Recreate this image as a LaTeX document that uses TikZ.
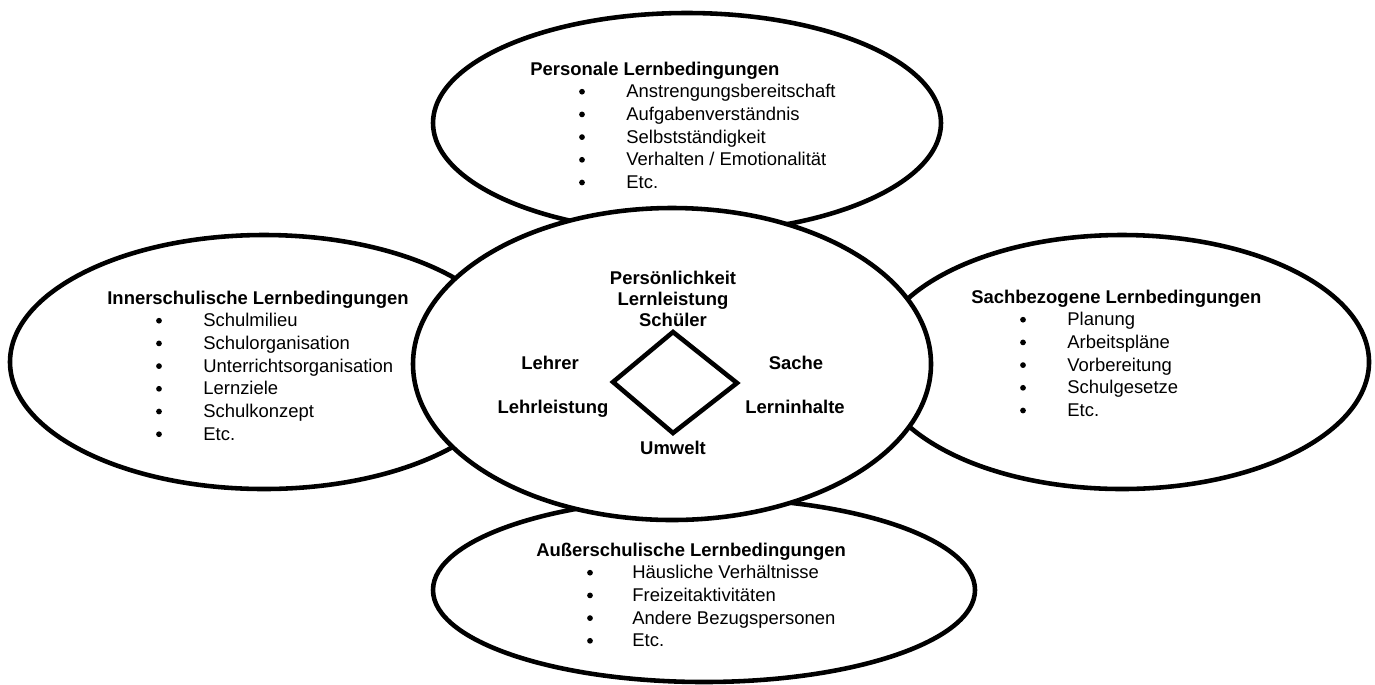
\documentclass[tikz,border=0pt]{standalone}
\usepackage{fontspec}
\setmainfont{Liberation Sans}

\tikzset{
  rand/.style={line width=2.6pt, fill=white},
  kopf/.style={anchor=base west, font=\fontsize{10.5}{12.9}\selectfont\bfseries},
  punkt/.style={anchor=base west},
  kugel/.style={circle, fill, minimum size=0.115cm},
  mitte/.style={anchor=base, font=\fontsize{10.5}{12.9}\selectfont\bfseries}
}

\begin{document}
\begin{tikzpicture}[x=0.02cm, y=-0.02cm,
  every node/.append style={inner sep=0pt, font=\fontsize{10.5}{12.9}\selectfont}]

	\useasboundingbox (0,0) rectangle (1375,684);

	% aeussere Ellipsen
	\draw[rand](687,123) ellipse[x radius=254, y radius=110];
	\draw[rand](264,362) ellipse[x radius=254, y radius=127];
	\draw[rand](1122,362) ellipse[x radius=247, y radius=127];
	\draw[rand](704,590) ellipse[x radius=271, y radius=92];
	% mittlere Ellipse liegt oben
	\draw[rand](672,364) ellipse[x radius=259, y radius=156];

	% Personale Lernbedingungen
	\node[kopf] (pers) at (530,75){Personale Lernbedingungen};
	\foreach \txt [count=\i] in {Anstrengungsbereitschaft, Aufgabenverständnis, Selbstständigkeit, Verhalten / Emotionalität, Etc.}{
		\node[kugel] (persb\i) at (582,{69+22.7*\i}){};
		\node[punkt] (pers\i) at (626,{75+22.7*\i}){\txt};
	}

	% Innerschulische Lernbedingungen
	\node[kopf] (inner) at (107,304){Innerschulische Lernbedingungen};
	\foreach \txt [count=\i] in {Schulmilieu, Schulorganisation, Unterrichtsorganisation, Lernziele, Schulkonzept, Etc.}{
		\node[kugel] (innerb\i) at (159,{298+22.7*\i}){};
		\node[punkt] (inner\i) at (203,{304+22.7*\i}){\txt};
	}

	% Sachbezogene Lernbedingungen
	\node[kopf] (sach) at (971,303){Sachbezogene Lernbedingungen};
	\foreach \txt [count=\i] in {Planung, Arbeitspläne, Vorbereitung, Schulgesetze, Etc.}{
		\node[kugel] (sachb\i) at (1023,{297+22.7*\i}){};
		\node[punkt] (sach\i) at (1067,{303+22.7*\i}){\txt};
	}

	% Ausserschulische Lernbedingungen
	\node[kopf] (ausser) at (536,556){Außerschulische Lernbedingungen};
	\foreach \txt [count=\i] in {Häusliche Verhältnisse, Freizeitaktivitäten, Andere Bezugspersonen, Etc.}{
		\node[kugel] (ausserb\i) at (590,{550+22.7*\i}){};
		\node[punkt] (ausser\i) at (632,{556+22.7*\i}){\txt};
	}

	% Mitte
	\node[mitte] (persoen) at (673,284){Persönlichkeit};
	\node[mitte] (lernl) at (673,305){Lernleistung};
	\node[mitte] (schueler) at (673,326){Schüler};
	\node[mitte] (lehrer) at (550,369){Lehrer};
	\node[mitte] (lehrl) at (553,413){Lehrleistung};
	\node[mitte] (sache) at (796,369){Sache};
	\node[mitte] (inhalte) at (795,413){Lerninhalte};
	\node[mitte] (umwelt) at (673,454){Umwelt};

	\coordinate (dO) at (673,332);
	\coordinate (dR) at (737,383);
	\coordinate (dU) at (673,433);
	\coordinate (dL) at (613,382);
	\draw[line width=2.6pt](dO)--(dR)--(dU)--(dL)--cycle;
\end{tikzpicture}
\end{document}
